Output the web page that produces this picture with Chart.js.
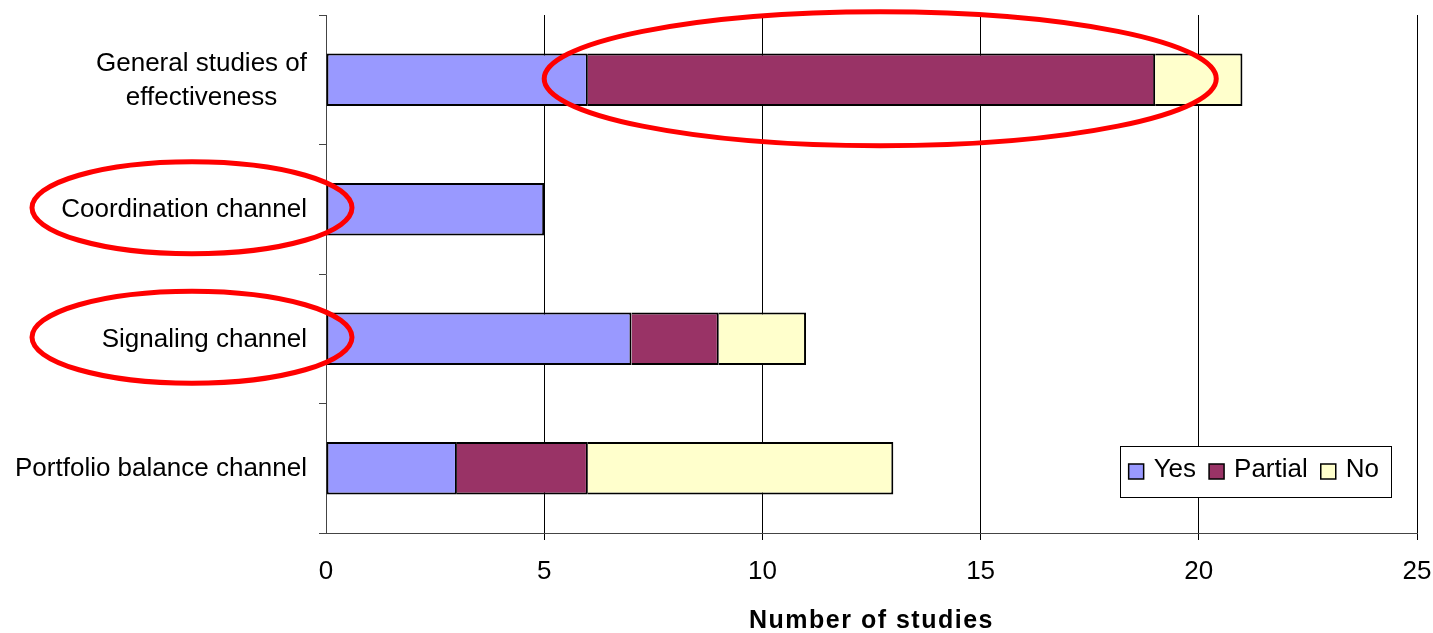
<!DOCTYPE html>
<html>
<head>
<meta charset="utf-8">
<script src="https://cdn.jsdelivr.net/npm/chart.js@4/dist/chart.umd.min.js"></script>
<style>
  html, body { margin: 0; padding: 0; background: #ffffff; }
  #wrap { width: 1433px; height: 633px; }
</style>
</head>
<body>
<div id="wrap"><canvas id="chart" width="1433" height="633"></canvas></div>
<script>
// Categories (multi-line labels are arrays of lines)
const categories = [
  ["General studies of", "effectiveness"],
  ["Coordination channel"],
  ["Signaling channel"],
  ["Portfolio balance channel"]
];
const seriesNames = ["Yes", "Partial", "No"];
const yesValues = [6, 5, 7, 3];
const partialValues = [13, 0, 2, 3];
const noValues = [2, 0, 2, 7];
const xTickValues = [0, 5, 10, 15, 20, 25];
const axisTitle = "Number of studies";

// Highlight ellipses: one around a stretch of a bar, two around category labels
const barCallouts = [{ category: 0, from: 5.0, to: 20.4 }];
const labelCallouts = [1, 2];

const FONT = "'Liberation Sans', Arial, sans-serif";
const colors = ["#9999FF", "#993366", "#FFFFCC"];

function segmentBorder(i) {
  // first segment gets a full outline; later ones share the divider with the previous segment
  return i === 0 ? { top: 2, bottom: 2, left: 2, right: 2 } : { top: 2, bottom: 2, left: 0, right: 2 };
}

const seriesValues = [yesValues, partialValues, noValues];
const datasets = seriesNames.map((name, i) => ({
  label: name,
  data: seriesValues[i],
  backgroundColor: colors[i],
  borderColor: "#000000",
  borderWidth: segmentBorder(i),
  borderSkipped: false
}));

// Category labels: lines centred within a right-aligned block
const categoryLabelPlugin = {
  id: "categoryLabels",
  afterDraw(chart) {
    const { ctx, chartArea, scales } = chart;
    const y = scales.y;
    ctx.save();
    ctx.font = "26px " + FONT;
    ctx.fillStyle = "#000";
    ctx.textBaseline = "middle";
    ctx.textAlign = "center";
    const rightEdge = chartArea.left - 19;
    const lineH = 34;
    categories.forEach((lines, i) => {
      const cy = y.getPixelForValue(i);
      const w = Math.max(...lines.map(l => ctx.measureText(l).width));
      const cx = rightEdge - w / 2;
      const y0 = cy - (lines.length - 1) * lineH / 2;
      lines.forEach((l, k) => ctx.fillText(l, cx, y0 + k * lineH + 1));
    });
    ctx.restore();
  }
};

// Axis title with a little letter spacing
const axisTitlePlugin = {
  id: "axisTitle",
  afterDraw(chart) {
    const { ctx, chartArea } = chart;
    ctx.save();
    ctx.font = "bold 25px " + FONT;
    try { ctx.letterSpacing = "1.5px"; } catch (e) {}
    ctx.fillStyle = "#000";
    ctx.textAlign = "center";
    ctx.textBaseline = "middle";
    ctx.fillText(axisTitle, (chartArea.left + chartArea.right) / 2, 621);
    ctx.restore();
  }
};

// Legend box inside the plot area, lower right
const legendPlugin = {
  id: "insideLegend",
  afterDraw(chart) {
    const { ctx, chartArea } = chart;
    ctx.save();
    ctx.font = "26px " + FONT;
    const sw = 15, gapSwText = 10, gapItems = 13, padL = 9, padR = 12;
    const widths = seriesNames.map(n => ctx.measureText(n).width);
    let total = padL + padR;
    widths.forEach((w, i) => { total += sw + gapSwText + w + (i < widths.length - 1 ? gapItems : 0); });
    const boxW = Math.max(total, 270), boxH = 51;
    const bx = chartArea.right - 26 - boxW;
    const by = chartArea.bottom - 36 - boxH;
    ctx.fillStyle = "#fff";
    ctx.fillRect(bx, by, boxW, boxH);
    ctx.strokeStyle = "#000";
    ctx.lineWidth = 1;
    ctx.strokeRect(Math.round(bx) + 0.5, Math.round(by) + 0.5, Math.round(boxW), Math.round(boxH));
    let x = bx + padL;
    const cy = by + boxH / 2 - 3;
    ctx.textBaseline = "middle";
    ctx.textAlign = "left";
    seriesNames.forEach((n, i) => {
      ctx.fillStyle = colors[i];
      ctx.fillRect(x, cy - sw / 2 + 3, sw, sw);
      ctx.lineWidth = 1.5;
      ctx.strokeStyle = "#000";
      ctx.strokeRect(x, cy - sw / 2 + 3, sw, sw);
      x += sw + gapSwText;
      ctx.fillStyle = "#000";
      ctx.fillText(n, x, cy + 1);
      x += widths[i] + gapItems;
    });
    ctx.restore();
  }
};

// Red highlight ellipses
const calloutPlugin = {
  id: "callouts",
  afterDraw(chart) {
    const { ctx, chartArea, scales } = chart;
    ctx.save();
    ctx.strokeStyle = "#FF0000";
    ctx.lineWidth = 5;
    barCallouts.forEach(c => {
      const x1 = scales.x.getPixelForValue(c.from);
      const x2 = scales.x.getPixelForValue(c.to);
      const cy = scales.y.getPixelForValue(c.category) - 1;
      ctx.beginPath();
      ctx.ellipse((x1 + x2) / 2, cy, (x2 - x1) / 2, 67, 0, 0, Math.PI * 2);
      ctx.stroke();
    });
    labelCallouts.forEach(i => {
      const cy = scales.y.getPixelForValue(i) - 1.5;
      ctx.beginPath();
      ctx.ellipse(chartArea.left - 134, cy, 160, 46, 0, 0, Math.PI * 2);
      ctx.stroke();
    });
    ctx.restore();
  }
};

new Chart(document.getElementById("chart"), {
  type: "bar",
  data: { labels: categories.map(l => l.join(" ")), datasets },
  options: {
    indexAxis: "y",
    responsive: false,
    animation: false,
    devicePixelRatio: 1,
    layout: { padding: { top: 15, right: 16, left: 0, bottom: 0 } },
    datasets: { bar: { categoryPercentage: 1, barPercentage: 0.405 } },
    plugins: { legend: { display: false }, tooltip: { enabled: false }, title: { display: false } },
    scales: {
      x: {
        type: "linear",
        stacked: true,
        min: 0,
        max: 25,
        afterBuildTicks: s => { s.ticks = xTickValues.map(v => ({ value: v })); },
        grid: {
          color: c => (c.tick && c.tick.value === 0) ? "rgba(0,0,0,0)" : "#000",
          lineWidth: 1,
          drawTicks: true,
          tickLength: 7
        },
        border: { display: true, color: "#444", width: 1 },
        ticks: { font: { family: FONT, size: 26 }, color: "#000", padding: 16, maxRotation: 0 },
        afterFit: s => { s.height = 100; s.paddingLeft = 0; s.paddingRight = 0; }
      },
      y: {
        type: "category",
        stacked: true,
        grid: { offset: true, drawOnChartArea: false, drawTicks: true, tickLength: 7, color: "#444" },
        border: { display: true, color: "#444", width: 1 },
        ticks: { display: false },
        afterFit: s => { s.width = 326; }
      }
    }
  },
  plugins: [categoryLabelPlugin, axisTitlePlugin, legendPlugin, calloutPlugin]
});
</script>
</body>
</html>
